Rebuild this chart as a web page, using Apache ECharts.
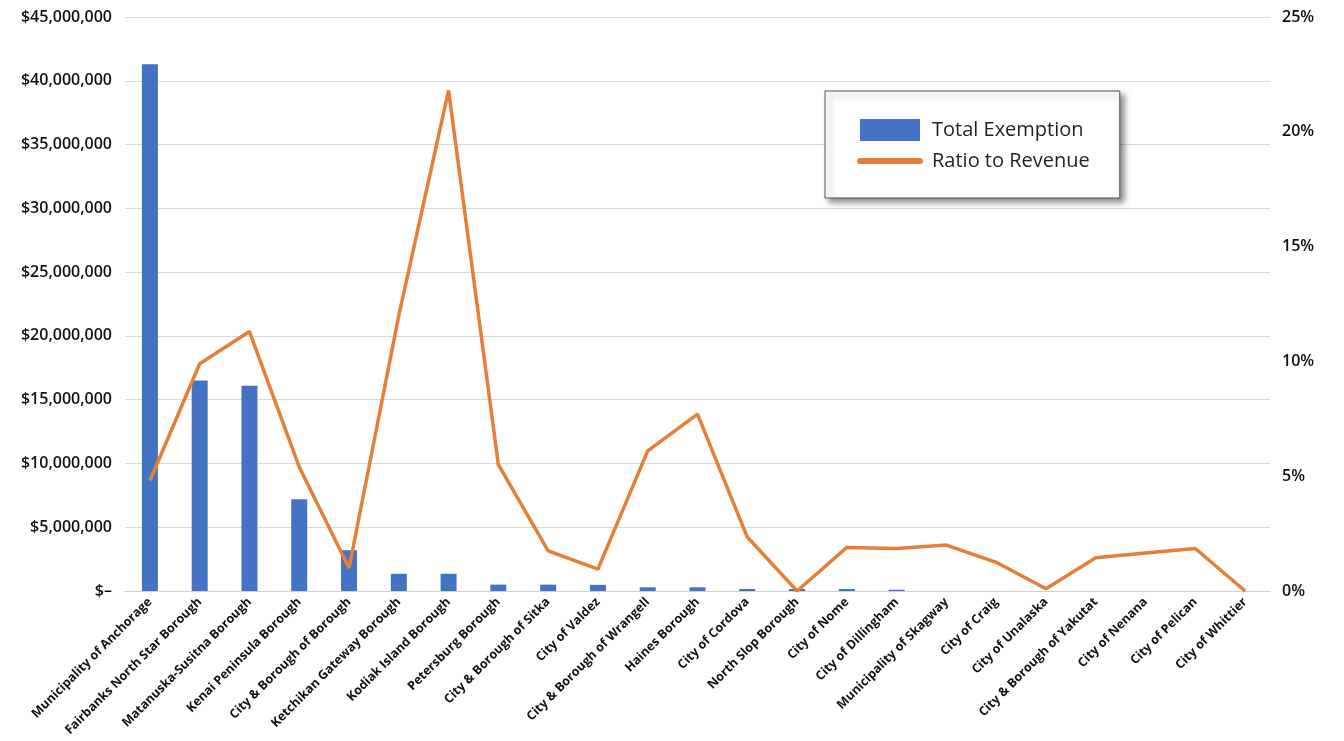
<!DOCTYPE html>
<html>
<head>
<meta charset="utf-8">
<script src="https://cdn.jsdelivr.net/npm/echarts@6/dist/echarts.min.js"></script>
<style>
  html, body { margin: 0; padding: 0; background: #fff; }
  #chart { width: 1344px; height: 741px; }
</style>
</head>
<body>
<div id="chart"></div>
<script>
// boroughs / cities
var categories = [
  'Municipality of Anchorage', 'Fairbanks North Star Borough', 'Matanuska-Susitna Borough',
  'Kenai Peninsula Borough', 'City & Borough of Borough', 'Ketchikan Gateway Borough',
  'Kodiak Island Borough', 'Petersburg Borough', 'City & Borough of Sitka', 'City of Valdez',
  'City & Borough of Wrangell', 'Haines Borough', 'City of Cordova', 'North Slop Borough',
  'City of Nome', 'City of Dillingham', 'Municipality of Skagway', 'City of Craig',
  'City of Unalaska', 'City & Borough of Yakutat', 'City of Nenana', 'City of Pelican',
  'City of Whittier'
];
// Total Exemption ($)
var exemption = [
  41300000, 16500000, 16100000, 7200000, 3200000, 1350000, 1350000, 500000, 500000, 480000,
  290000, 290000, 160000, 160000, 160000, 100000, 0, 0, 0, 0, 0, 0, 0
];
// Ratio to Revenue (fraction)
var ratio = [
  0.048, 0.099, 0.113, 0.054, 0.010, 0.120, 0.218, 0.055, 0.0175, 0.0095,
  0.061, 0.077, 0.0235, 0.0, 0.019, 0.0185, 0.020, 0.0125, 0.001, 0.0145,
  0.0165, 0.0185, 0.0
];

var font = '"Open Sans", "Liberation Sans", sans-serif';
var myChart = echarts.init(document.getElementById('chart'));

function money(v) {
  if (v === 0) return '$\u2013';
  return '$' + v.toString().replace(/\B(?=(\d{3})+(?!\d))/g, ',');
}

var option = {
  backgroundColor: '#ffffff',
  animation: false,
  grid: { left: 125, right: 74, top: 17, bottom: 150, outerBoundsMode: 'none', containLabel: false },
  legend: {
    orient: 'vertical',
    left: 825,
    top: 91,
    padding: [28, 30, 27, 32],
    itemWidth: 60,
    itemHeight: 22,
    itemGap: 10,
    backgroundColor: '#ffffff',
    borderColor: '#555555',
    borderWidth: 1,
    shadowBlur: 6,
    shadowOffsetX: 4,
    shadowOffsetY: 4,
    shadowColor: 'rgba(0,0,0,0.45)',
    textStyle: { fontFamily: font, fontSize: 20, color: '#231f20', padding: [0, 0, 0, 7] },
    data: [
      { name: 'Total Exemption', icon: 'rect' },
      {
        name: 'Ratio to Revenue',
        itemStyle: { opacity: 0 },
        lineStyle: { width: 6, cap: 'round', color: '#e57e36' }
      }
    ]
  },
  xAxis: {
    type: 'category',
    data: categories,
    axisLine: { lineStyle: { color: '#d0d0d0', width: 1 } },
    axisTick: { show: false },
    axisLabel: {
      interval: 0,
      rotate: 45,
      margin: 9,
      fontFamily: '"Liberation Sans Narrow", "Open Sans", sans-serif',
      fontWeight: 'bold',
      fontSize: 12.5,
      color: '#111111'
    }
  },
  yAxis: [{
    type: 'value',
    min: 0,
    max: 45000000,
    interval: 5000000,
    axisLine: { show: false },
    axisTick: { show: false },
    splitLine: { lineStyle: { color: '#d9d9d9', width: 1 } },
    axisLabel: {
      margin: 13,
      fontFamily: font,
      fontWeight: 600,
      fontSize: 16,
      color: '#111111',
      formatter: money
    }
  }, {
    type: 'value',
    min: 0,
    max: 0.25,
    interval: 0.05,
    axisLine: { show: false },
    axisTick: { show: false },
    splitLine: { show: false },
    axisLabel: {
      margin: 12,
      fontFamily: font,
      fontWeight: 600,
      fontSize: 16,
      color: '#111111',
      formatter: function (v) { return Math.round(v * 100) + '%'; }
    }
  }],
  series: [{
    name: 'Total Exemption',
    type: 'bar',
    data: exemption,
    barWidth: 16,
    itemStyle: { color: '#4472c4' }
  }, {
    name: 'Ratio to Revenue',
    type: 'line',
    yAxisIndex: 1,
    data: ratio,
    symbol: 'none',
    lineStyle: { color: '#e57e36', width: 3.5 },
    itemStyle: { color: '#e57e36' }
  }]
};
myChart.setOption(option);
</script>
</body>
</html>
